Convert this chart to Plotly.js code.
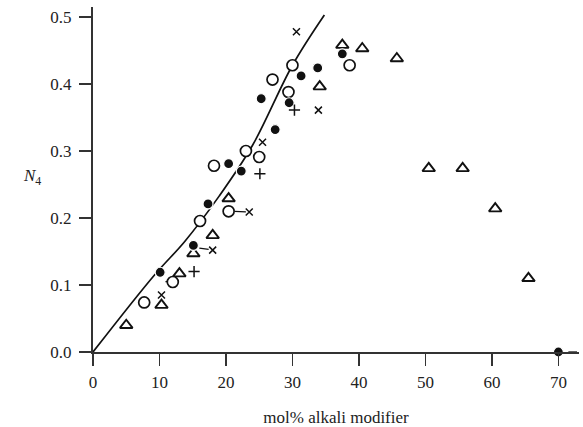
<!DOCTYPE html>
<html>
<head>
<meta charset="utf-8">
<script src="https://cdn.plot.ly/plotly-3.0.1.min.js"></script>
<style>html,body{margin:0;padding:0;background:#fff;}#chart{width:583px;height:427px;}</style>
</head>
<body>
<div id="chart"></div>
<script>
// Theoretical line
const lineX = [0, 9.25, 13.8, 19, 24, 30, 34.8];
const lineY = [0, 0.115, 0.165, 0.233, 0.3085, 0.428, 0.503];

// Filled circles
const filledX = [10.1, 15.1, 17.3, 20.4, 22.3, 25.3, 27.4, 29.5, 31.3, 33.8, 37.5, 70];
const filledY = [0.119, 0.159, 0.221, 0.281, 0.270, 0.378, 0.332, 0.372, 0.412, 0.424, 0.445, 0.0];

// Open circles
const openX = [7.7, 12.0, 16.1, 18.2, 20.4, 23.0, 25.0, 27.0, 29.4, 30.0, 38.6];
const openY = [0.074, 0.1045, 0.1955, 0.278, 0.210, 0.300, 0.291, 0.4066, 0.388, 0.428, 0.428];

// Open triangles
const triX = [5.0, 10.3, 13.0, 15.1, 18.0, 20.4, 34.1, 37.5, 40.5, 45.7, 50.5, 55.6, 60.5, 65.5];
const triY = [0.040, 0.070, 0.117, 0.147, 0.174, 0.229, 0.396, 0.458, 0.453, 0.438, 0.274, 0.274, 0.214, 0.110];

// Crosses (x)
const crossX = [10.3, 18.0, 23.5, 25.5, 30.6, 33.9];
const crossY = [0.085, 0.152, 0.209, 0.313, 0.478, 0.361];

// Plus signs
const plusX = [15.2, 25.1, 30.3];
const plusY = [0.120, 0.266, 0.361];

// Short connector dashes
const dashX = [16.0, 17.4, null, 21.3, 23.0, null, 10.9, 11.3, null, 71.5, 72.8];
const dashY = [0.155, 0.153, null, 0.210, 0.209, null, 0.105, 0.105, null, 0.0, 0.0];

// Tick labels
const xTicks = [0, 10, 20, 30, 40, 50, 60, 70];
const yTicks = [0.0, 0.1, 0.2, 0.3, 0.4, 0.5];

const ink = '#111';
const traces = [
  {x: lineX, y: lineY, mode: 'lines', line: {color: ink, width: 1.7, shape: 'spline'}, hoverinfo: 'skip'},
  {x: dashX, y: dashY, mode: 'lines', line: {color: ink, width: 1.3}, connectgaps: false, hoverinfo: 'skip'},
  {x: triX, y: triY, mode: 'markers', marker: {symbol: 'triangle-up', size: 11, color: '#fff', line: {color: ink, width: 1.9}}},
  {x: openX, y: openY, mode: 'markers', marker: {symbol: 'circle', size: 11, color: '#fff', line: {color: ink, width: 1.7}}},
  {x: filledX, y: filledY, mode: 'markers', marker: {symbol: 'circle', size: 10, color: ink, line: {color: '#fff', width: 1.2}}},
  {x: crossX, y: crossY, mode: 'markers', marker: {symbol: 'x-thin', size: 7, line: {color: ink, width: 1.5}}},
  {x: plusX, y: plusY, mode: 'markers', marker: {symbol: 'cross-thin', size: 8, line: {color: ink, width: 1.5}}}
];
traces.forEach(t => { t.showlegend = false; t.cliponaxis = false; });

const serif = 'Liberation Serif, Times New Roman, serif';
const axisFont = {family: serif, size: 17, color: '#222'};

const layout = {
  width: 583, height: 427,
  margin: {l: 93, r: 4, t: 7, b: 75},
  paper_bgcolor: '#fff', plot_bgcolor: '#fff',
  showlegend: false,
  xaxis: {
    range: [0, 73.1], showgrid: false, zeroline: false,
    showline: true, linecolor: '#333', linewidth: 2,
    ticks: 'outside', ticklen: 12, tickwidth: 1.5, tickcolor: '#333',
    tickvals: xTicks, ticktext: xTicks.map(String),
    tickfont: axisFont, ticklabelstandoff: 2,
    title: {text: 'mol% alkali modifier', font: {family: serif, size: 17, color: '#222'}, standoff: 20},
    automargin: false
  },
  yaxis: {
    range: [0, 0.5149], showgrid: false, zeroline: false,
    showline: true, linecolor: '#333', linewidth: 2,
    ticks: 'outside', ticklen: 12, tickwidth: 1.5, tickcolor: '#333',
    tickvals: yTicks, ticktext: yTicks.map(v => v.toFixed(1)),
    tickfont: axisFont, ticklabelstandoff: 4,
    automargin: false
  },
  annotations: [{
    xref: 'paper', yref: 'paper', x: -0.125, y: 0.507,
    xanchor: 'center', yanchor: 'middle', showarrow: false,
    text: '<i>N</i><sub>4</sub>',
    font: {family: serif, size: 17, color: '#222'}
  }]
};

Plotly.newPlot('chart', traces, layout, {displayModeBar: false, staticPlot: true});
</script>
</body>
</html>
